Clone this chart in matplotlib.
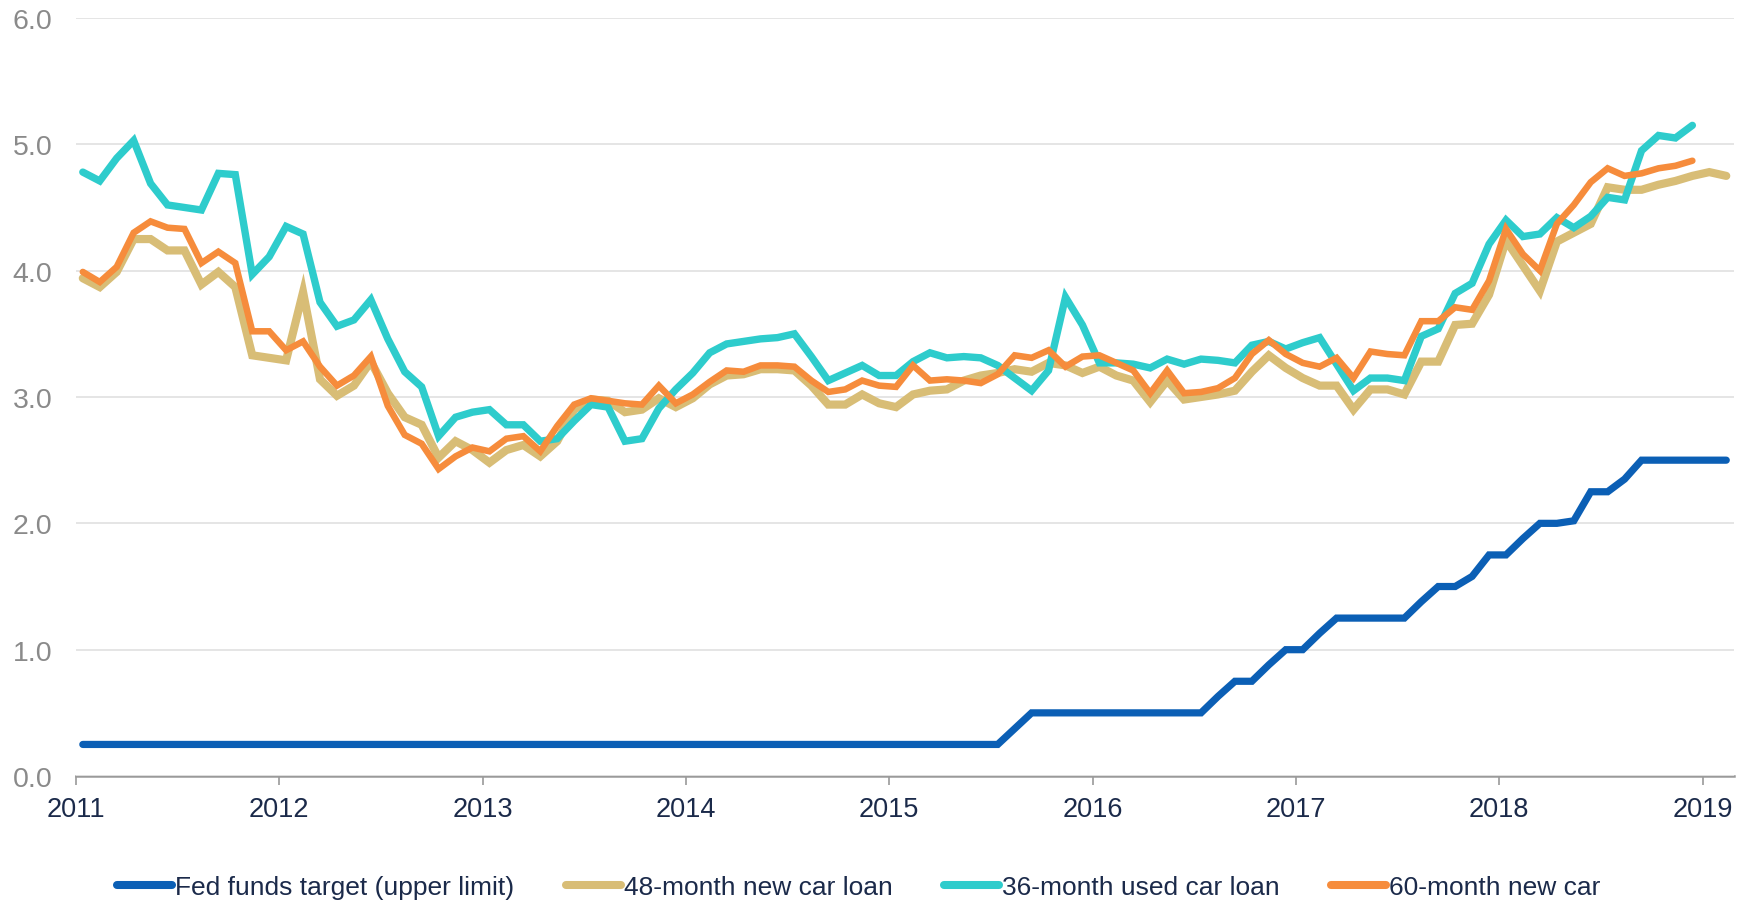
import numpy as np
import matplotlib
matplotlib.use("Agg")
import matplotlib.pyplot as plt

plt.rcParams['font.family'] = ['Liberation Sans', 'DejaVu Sans']

# ---- data (monthly, starting Jan 2011) ----
start_year = 2011
fed_funds = ([0.25] * 55 + [0.375] + [0.5] * 11 + [0.63, 0.75, 0.75, 0.88, 1.0, 1.0, 1.13]
             + [1.25] * 5 + [1.38, 1.5, 1.5, 1.58, 1.75, 1.75, 1.88, 2.0, 2.0, 2.02, 2.25, 2.25, 2.35]
             + [2.5] * 6)

new48 = [3.94, 3.87, 3.99, 4.25, 4.25, 4.16, 4.16, 3.89, 3.99, 3.87, 3.33, 3.31, 3.29, 3.83, 3.14, 3.01,
         3.09, 3.28, 3.03, 2.84, 2.78, 2.52, 2.65, 2.58, 2.48, 2.58, 2.62, 2.53, 2.65, 2.90, 2.98, 2.97,
         2.88, 2.90, 2.99, 2.92, 2.99, 3.10, 3.17, 3.18, 3.22, 3.22, 3.21, 3.09, 2.94, 2.94, 3.02, 2.95,
         2.92, 3.02, 3.05, 3.06, 3.13, 3.17, 3.19, 3.22, 3.20, 3.27, 3.25, 3.19, 3.24, 3.17, 3.13, 2.96,
         3.13, 2.98, 3.00, 3.02, 3.05, 3.20, 3.33, 3.23, 3.15, 3.09, 3.09, 2.90, 3.06, 3.06, 3.02, 3.28,
         3.28, 3.57, 3.58, 3.81, 4.24, 4.04, 3.84, 4.23, 4.30, 4.37, 4.66, 4.64, 4.64, 4.68, 4.71, 4.75,
         4.78, 4.75]

used36 = [4.78, 4.71, 4.89, 5.03, 4.69, 4.52, 4.50, 4.48, 4.77, 4.76, 3.97, 4.11, 4.35, 4.29, 3.75, 3.56,
          3.61, 3.77, 3.46, 3.20, 3.08, 2.69, 2.84, 2.88, 2.90, 2.78, 2.78, 2.65, 2.67, 2.81, 2.94, 2.92,
          2.65, 2.67, 2.91, 3.06, 3.19, 3.35, 3.42, 3.44, 3.46, 3.47, 3.50, 3.32, 3.13, 3.19, 3.25, 3.17,
          3.17, 3.28, 3.35, 3.31, 3.32, 3.31, 3.25, 3.15, 3.05, 3.21, 3.79, 3.57, 3.27, 3.27, 3.26, 3.23,
          3.30, 3.26, 3.30, 3.29, 3.27, 3.41, 3.44, 3.38, 3.43, 3.47, 3.26, 3.05, 3.15, 3.15, 3.13, 3.48,
          3.54, 3.82, 3.90, 4.21, 4.40, 4.27, 4.29, 4.42, 4.34, 4.43, 4.58, 4.56, 4.95, 5.07, 5.05, 5.15]

new60 = [3.99, 3.91, 4.03, 4.30, 4.39, 4.34, 4.33, 4.06, 4.15, 4.06, 3.52, 3.52, 3.37, 3.44, 3.24, 3.09,
         3.17, 3.32, 2.93, 2.70, 2.63, 2.43, 2.53, 2.60, 2.57, 2.67, 2.69, 2.57, 2.77, 2.94, 2.99, 2.97,
         2.95, 2.94, 3.09, 2.95, 3.02, 3.12, 3.21, 3.20, 3.25, 3.25, 3.24, 3.13, 3.04, 3.06, 3.13, 3.09,
         3.08, 3.25, 3.13, 3.14, 3.13, 3.11, 3.18, 3.33, 3.31, 3.37, 3.24, 3.32, 3.33, 3.27, 3.21, 3.03,
         3.21, 3.03, 3.04, 3.07, 3.15, 3.34, 3.45, 3.34, 3.27, 3.24, 3.31, 3.15, 3.36, 3.34, 3.33, 3.60,
         3.60, 3.71, 3.69, 3.92, 4.33, 4.13, 4.00, 4.37, 4.52, 4.70, 4.81, 4.75, 4.77, 4.81, 4.83, 4.87]

labels = ["Fed funds target (upper limit)", "48-month new car loan",
          "36-month used car loan", "60-month new car"]
year_ticks = list(range(2011, 2020))
y_ticks = [0, 1, 2, 3, 4, 5, 6]

colors = ["#0B5FB5", "#D8BD76", "#2ECCCC", "#F68C3C"]
widths = [5.2, 5.9, 5.3, 4.7]


def xs(series):
    return start_year + (np.arange(len(series)) + 0.4) / 12.0


fig = plt.figure(figsize=(17.56, 9.03), dpi=100)
ax = fig.add_axes([0.0433, 0.1395, 0.9442, 0.8395])

for s, lab, c, w in zip([fed_funds, new48, used36, new60], labels, colors, widths):
    ax.plot(xs(s), s, color=c, lw=w, label=lab, solid_capstyle='round',
            solid_joinstyle='miter')

ax.set_xlim(2011, 2019.155)
ax.set_ylim(0, 6)
ax.set_yticks(y_ticks)
ax.set_yticklabels([f"{v:.1f}" for v in y_ticks])
ax.set_xticks(year_ticks)
ax.set_xticklabels([str(y) for y in year_ticks])

ax.grid(axis='y', color='#E3E3E3', lw=1.3)
ax.set_axisbelow(True)
for sp in ['top', 'right', 'left']:
    ax.spines[sp].set_visible(False)
ax.spines['bottom'].set_color('#9A9A9A')
ax.spines['bottom'].set_linewidth(1.8)
ax.spines['bottom'].set_zorder(0.5)

ax.tick_params(axis='y', length=0, pad=17, labelsize=20.5, labelcolor='#8A8A8A')
ax.tick_params(axis='x', length=6.5, width=1.2, color='#9A9A9A', pad=8,
               labelsize=19.5, labelcolor='#1B2A4A')

leg = fig.legend(loc='center', bbox_to_anchor=(0.489, 0.0166), ncol=4, frameon=False,
                 fontsize=19, handlelength=2.1, handletextpad=0.1, columnspacing=1.95,
                 borderaxespad=0)
for t in leg.get_texts():
    t.set_color('#1B2A4A')
for h in leg.legend_handles:
    h.set_linewidth(5.8)

fig.savefig("out.png", dpi=100)
